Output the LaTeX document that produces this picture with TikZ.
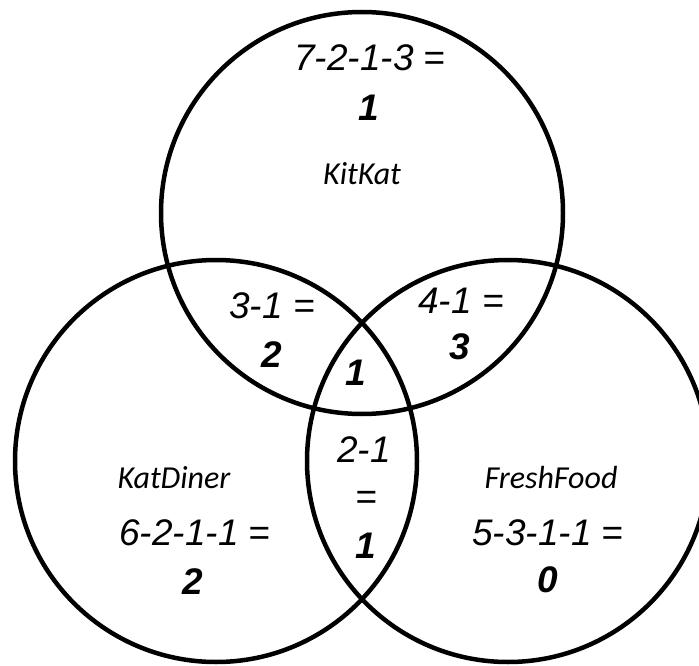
\documentclass[tikz,border=0pt]{standalone}
\usepackage{fontspec}
\setmainfont{Liberation Sans}
\newfontfamily\namefont{Carlito}
\begin{document}
\begin{tikzpicture}[x=1pt,y=-1pt,
  ring/.style={line width=4.5pt},
  sum/.style={inner sep=0pt,font=\fontsize{37}{42}\selectfont\itshape},
  res/.style={inner sep=0pt,font=\fontsize{37}{42}\selectfont\bfseries\itshape},
  shop/.style={inner sep=0pt,font=\fontsize{32}{38}\selectfont\namefont\itshape}]
\useasboundingbox (0,0) rectangle (699,666);
% the three sets
\coordinate (kk) at (362,213);
\coordinate (kd) at (216,461);
\coordinate (ff) at (508,461);
\foreach \c in {kk,kd,ff}
  \draw[ring] (\c) circle[radius=201pt];
% KitKat only
\node[sum]  (kksum) at (370,58)  {7-2-1-3 =};
\node[res]  (kkres) at (369,108) {1};
\node[shop] (kkname) at (362,174) {KitKat};
% KitKat and KatDiner
\node[sum]  (kdsum) at (272,306) {3-1 =};
\node[res]  (kdres) at (272,355) {2};
% KitKat and FreshFood
\node[sum]  (kfsum) at (461,301) {4-1 =};
\node[res]  (kfres) at (460,347) {3};
% all three
\node[res]  (allres) at (356,373) {1};
% KatDiner and FreshFood
\node[sum]  (dfsum) at (364,450) {2-1};
\node[sum]  (dfeq)  at (366,500) {=};
\node[res]  (dfres) at (366,546) {1};
% KatDiner only
\node[shop] (kdname) at (174,478) {KatDiner};
\node[sum]  (dsum)   at (195,533) {6-2-1-1 =};
\node[res]  (dres)   at (193,582) {2};
% FreshFood only
\node[shop] (ffname) at (551,478) {FreshFood};
\node[sum]  (fsum)   at (548,533) {5-3-1-1 =};
\node[res]  (fres)   at (548,580) {0};
\end{tikzpicture}
\end{document}
